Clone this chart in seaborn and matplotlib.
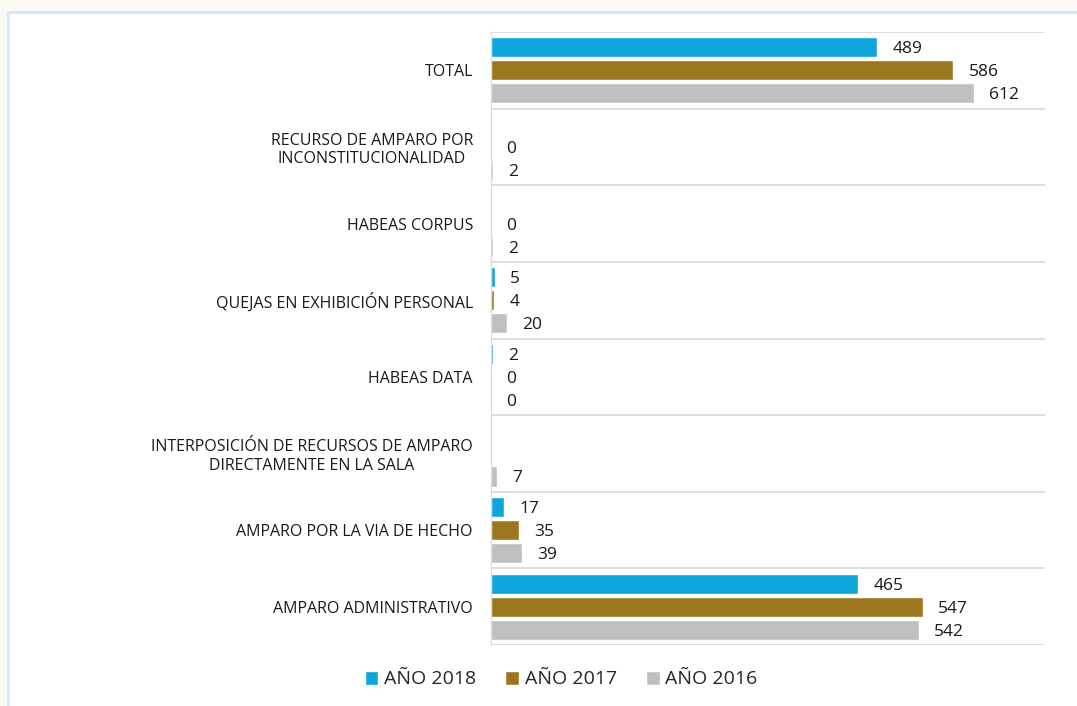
import matplotlib
matplotlib.use('Agg')
import matplotlib.pyplot as plt
import numpy as np
import pandas as pd
import seaborn as sns
from matplotlib.patches import Rectangle

# chart data
categories = [
    'TOTAL',
    'RECURSO DE AMPARO POR\nINCONSTITUCIONALIDAD',
    'HABEAS CORPUS',
    'QUEJAS EN EXHIBICIÓN PERSONAL',
    'HABEAS DATA',
    'INTERPOSICIÓN DE RECURSOS DE AMPARO\nDIRECTAMENTE EN LA SALA',
    'AMPARO POR LA VIA DE HECHO',
    'AMPARO ADMINISTRATIVO',
]
years = ['AÑO 2018', 'AÑO 2017', 'AÑO 2016']
values_2018 = [489, np.nan, np.nan, 5, 2, np.nan, 17, 465]
values_2017 = [586, 0, 0, 4, 0, np.nan, 35, 547]
values_2016 = [612, 2, 2, 20, 0, 7, 39, 542]
colors = ['#0ea5dc', '#9c771d', '#bfbfbf']

# long table for seaborn; missing values are dropped so they get no bar/label
df = pd.DataFrame({
    'category': categories * 3,
    'year': np.repeat(years, len(categories)),
    'value': values_2018 + values_2017 + values_2016,
}).dropna()

sns.set_style('white')
plt.rcParams['font.family'] = ['Open Sans', 'DejaVu Sans']

fig = plt.figure(figsize=(10.77, 7.06), dpi=100, facecolor='#f9f8f3')
# white panel with light blue frame, behind everything
fig.patches.append(Rectangle((8 / 1077, -0.1), 1.2, 1.1 - 12 / 706,
                             transform=fig.transFigure, facecolor='white',
                             edgecolor='#d3e8f6', linewidth=2, zorder=-10))
ax = fig.add_axes([491 / 1077, 1 - 645 / 706, 554 / 1077, 613 / 706])
ax.set_facecolor('none')

sns.barplot(data=df, x='value', y='category', hue='year', order=categories,
            hue_order=years, palette=colors, orient='h', width=0.9, gap=0.12,
            saturation=1, errorbar=None, ax=ax, legend=True)

for cont in ax.containers:
    texts = ax.bar_label(cont, fmt='%d', padding=11, fontsize=12.5,
                         color='#1a1a1a')
    for t in texts:
        t.set_va('center_baseline')

# category separators
ax.set_xlim(0, 702)
ax.set_ylim(len(categories) - 0.5, -0.5)
ax.set_yticks(np.arange(-0.5, len(categories)), minor=True)
ax.grid(axis='y', which='minor', color='#d9d9d9', linewidth=1.2)
ax.tick_params(axis='y', which='both', length=0, pad=13, labelsize=11.5,
               labelcolor='#1a1a1a')
for lbl in ax.get_yticklabels():
    lbl.set_multialignment('center')
ax.set_xticks([])
ax.set_xlabel('')
ax.set_ylabel('')
for side in ['top', 'right', 'bottom']:
    ax.spines[side].set_visible(False)
ax.spines['left'].set_color('#d9d9d9')

handles, labels = ax.get_legend_handles_labels()
ax.get_legend().remove()
fig.legend(handles, labels, loc='lower center', bbox_to_anchor=(0.521, 0.0),
           ncol=3, frameon=False, fontsize=14, handlelength=0.7,
           handleheight=0.7, handletextpad=0.3, columnspacing=1.5)

fig.savefig('out.png', dpi=100, facecolor=fig.get_facecolor())
